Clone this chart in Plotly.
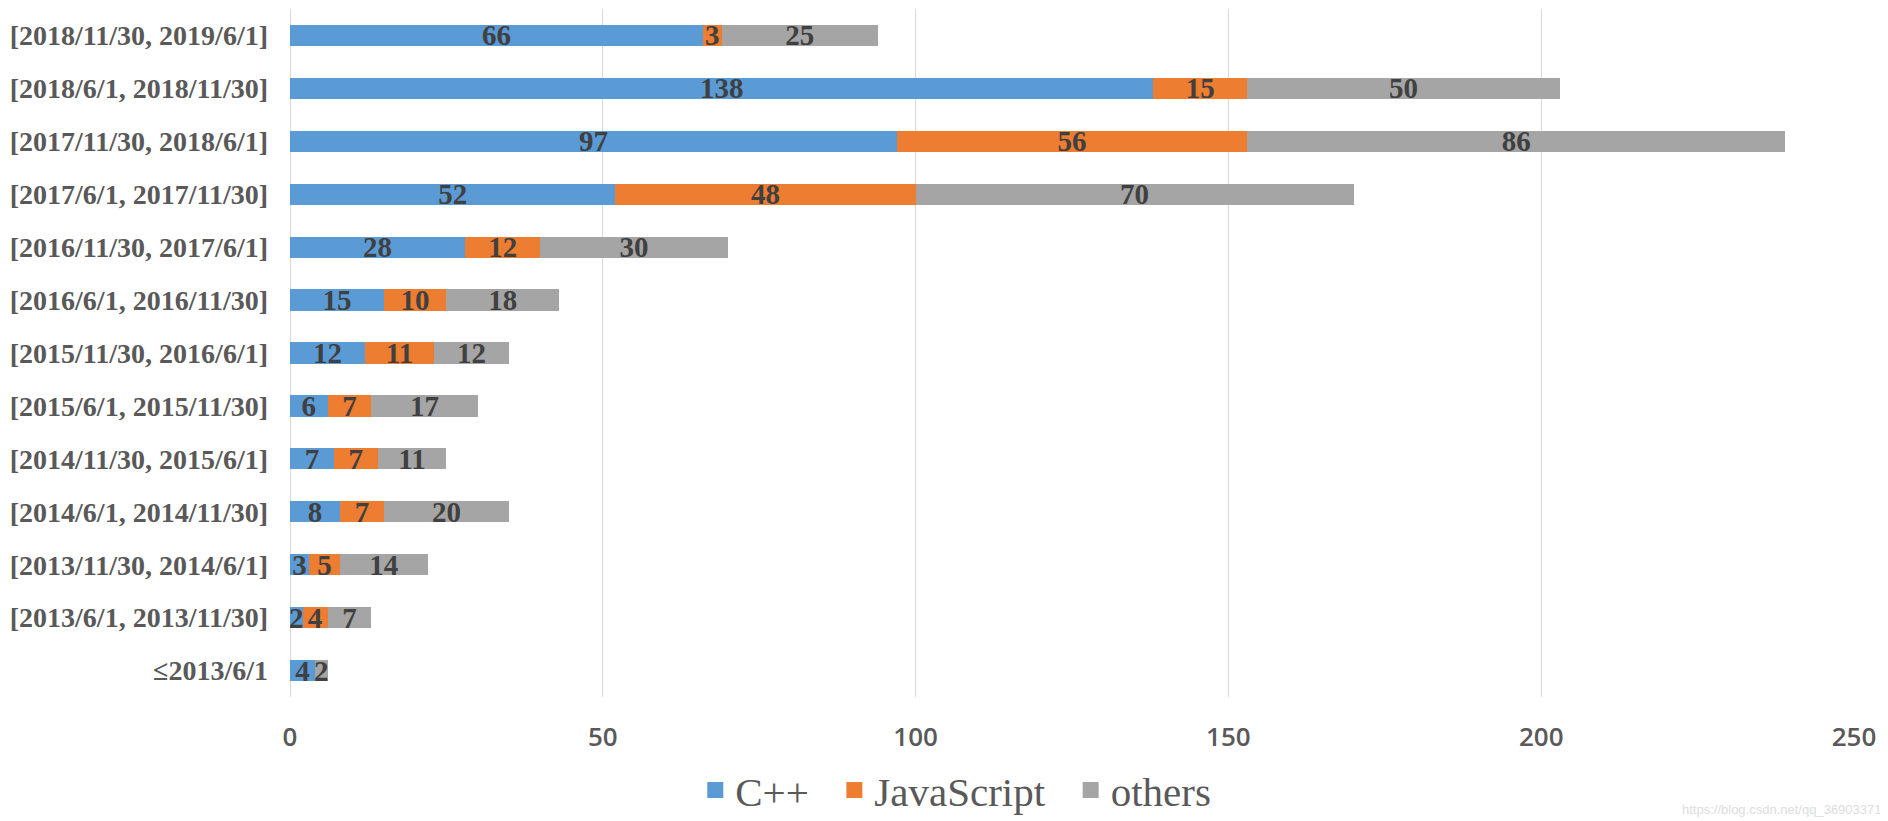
import plotly.graph_objects as go

categories = [
    "[2018/11/30, 2019/6/1]",
    "[2018/6/1, 2018/11/30]",
    "[2017/11/30, 2018/6/1]",
    "[2017/6/1, 2017/11/30]",
    "[2016/11/30, 2017/6/1]",
    "[2016/6/1, 2016/11/30]",
    "[2015/11/30, 2016/6/1]",
    "[2015/6/1, 2015/11/30]",
    "[2014/11/30, 2015/6/1]",
    "[2014/6/1, 2014/11/30]",
    "[2013/11/30, 2014/6/1]",
    "[2013/6/1, 2013/11/30]",
    "≤2013/6/1",
]
cpp = [66, 138, 97, 52, 28, 15, 12, 6, 7, 8, 3, 2, 4]
javascript = [3, 15, 56, 48, 12, 10, 11, 7, 7, 7, 5, 4, 0]
others = [25, 50, 86, 70, 30, 18, 12, 17, 11, 20, 14, 7, 2]

series = [("C++", cpp, "#5B9BD5"), ("JavaScript", javascript, "#ED7D31"), ("others", others, "#A5A5A5")]

fig = go.Figure()
for name, vals, color in series:
    fig.add_trace(go.Bar(
        y=categories, x=vals, name=name, orientation="h",
        marker=dict(color=color, line=dict(width=0)),
        text=[str(v) if v else "" for v in vals],
        textposition="inside", insidetextanchor="middle",
        constraintext="none", cliponaxis=False,
        textfont=dict(family="Liberation Serif", size=29, color="#404040", weight="bold"),
        textangle=0, showlegend=False,
    ))
# legend entries with larger square swatches
pad = "\u00a0\u00a0"
for i, (name, vals, color) in enumerate(series):
    fig.add_trace(go.Scatter(
        x=[None], y=[None], mode="markers",
        name=name + (pad if i < len(series) - 1 else ""),
        marker=dict(symbol="square", size=17, color=color),
        hoverinfo="skip",
    ))

fig.update_layout(
    barmode="stack",
    bargap=0.6,
    width=1888, height=821,
    margin=dict(l=282, r=42, t=1, b=132),
    plot_bgcolor="white", paper_bgcolor="white",
    legend=dict(
        orientation="h", xref="container", yref="container",
        x=0.502, xanchor="center", y=0.047, yanchor="middle",
        font=dict(family="Liberation Serif", size=41, color="#595959"),
        traceorder="normal", itemsizing="trace",
    ),
    xaxis=dict(
        range=[0, 250], dtick=50, showgrid=True, gridcolor="#D9D9D9", gridwidth=1,
        zeroline=True, zerolinecolor="#D9D9D9", zerolinewidth=1,
        showline=False, ticks="",
        tickfont=dict(family="Open Sans", size=26, color="#595959", weight=600),
        ticklabelstandoff=22,
    ),
    yaxis=dict(
        autorange="reversed", showgrid=False, zeroline=False, showline=False, ticks="",
        tickfont=dict(family="Liberation Serif", size=28, color="#595959", weight="bold"),
        ticklabelstandoff=21,
    ),
    annotations=[dict(
        text="https://blog.csdn.net/qq_36903371", xref="paper", yref="paper",
        x=1.0192, y=-0.164, xanchor="right", yanchor="middle", showarrow=False,
        font=dict(family="Liberation Sans", size=13, color="#DDDDDD"),
    )],
)

fig.write_html("out.html")
